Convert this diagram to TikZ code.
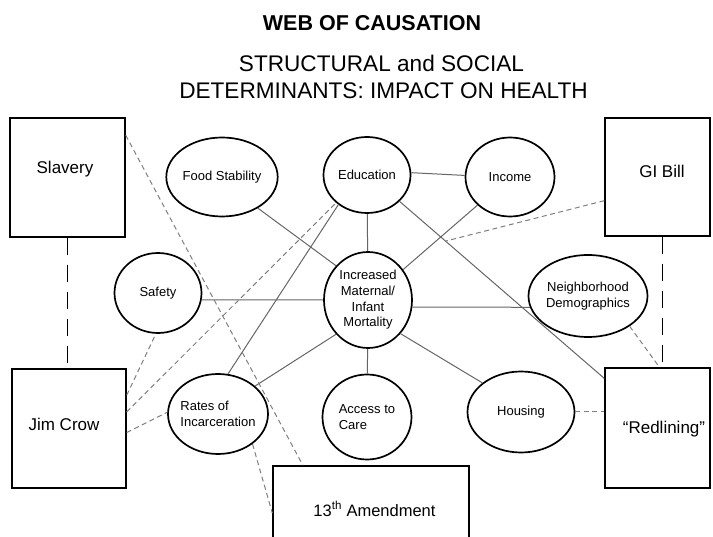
\documentclass[tikz,border=0pt]{standalone}
\usepackage{fontspec}
\setmainfont{Liberation Sans}
\usetikzlibrary{shapes.geometric}
\begin{document}
\begin{tikzpicture}[x=1pt,y=-1pt,
  box/.style={draw=black, line width=1.4pt, rectangle, inner sep=0pt},
  boxtext/.style={font=\fontsize{17}{20}\selectfont, inner sep=0pt},
  oval/.style={draw=black, line width=1.7pt, ellipse, inner sep=0pt,
    font=\fontsize{13}{15.6}\selectfont, align=center},
  link/.style={draw=black!60, line width=1pt},
  dlink/.style={draw=black!50, line width=1pt, dash pattern=on 5pt off 3.5pt},
  bigdash/.style={draw=black, line width=1.8pt, dash pattern=on 17pt off 10pt},
]
\clip (0,0) rectangle (713,537);
\fill[white] (0,0) rectangle (713,537);

% titles
\node[anchor=base, inner sep=0pt, font=\fontsize{21.5}{24}\selectfont\bfseries] (title) at (372,31) {WEB OF CAUSATION};
\node[anchor=base, inner sep=0pt, font=\fontsize{22.6}{26}\selectfont] (sub1) at (381.5,72) {STRUCTURAL and SOCIAL};
\node[anchor=base, inner sep=0pt, font=\fontsize{22.6}{26}\selectfont] (sub2) at (383.5,99) {DETERMINANTS: IMPACT ON HEALTH};

% boxes
\node[box, minimum width=115pt, minimum height=119pt] (slavery) at (67.5,177.5) {};
\node[boxtext] (slaveryt) at (65,169) {Slavery};
\node[box, minimum width=114pt, minimum height=119pt] (jimcrow) at (69,428.5) {};
\node[boxtext] (jimcrowt) at (64,424) {Jim Crow};
\node[box, minimum width=105pt, minimum height=118pt] (gibill) at (657.5,177) {};
\node[boxtext] (gibillt) at (662,171) {GI Bill};
\node[box, minimum width=105pt, minimum height=120pt] (redlining) at (657.5,428) {};
\node[boxtext] (redliningt) at (664,429) {``Redlining''};
\node[box, minimum width=196pt, minimum height=94pt] (amend) at (371,513) {};
\node[boxtext, font=\fontsize{16.5}{20}\selectfont] (amendt) at (374.5,509) {13\textsuperscript{th} Amendment};

% ellipses
\node[oval, minimum width=88pt, minimum height=79pt] (food) at (222,177) {Food Stability};
\node[oval, minimum width=87pt, minimum height=76pt] (edu) at (367,175) {Education};
\node[oval, minimum width=89pt, minimum height=79pt] (income) at (510,177) {Income};
\node[oval, minimum width=87pt, minimum height=80pt] (safety) at (158,293) {Safety};
\node[oval, minimum width=88pt, minimum height=96pt] (central) at (368,300) {Increased\\Maternal/\\Infant\\Mortality};
\node[oval, minimum width=119pt, minimum height=82pt, inner xsep=-2pt, font=\fontsize{13}{16}\selectfont] (neigh) at (588,296) {Neighborhood\\Demographics};
\node[oval, minimum width=100pt, minimum height=80pt, inner xsep=-4pt, align=left] (rates) at (218,414) {Rates of\\Incarceration};
\node[oval, minimum width=89pt, minimum height=85pt, align=left] (access) at (367,417) {Access to\\Care};
\node[oval, minimum width=107pt, minimum height=81pt] (housing) at (521,412) {Housing};

% solid links
\draw[link] (food.-41) -- (central.133);
\draw[link] (edu) -- (central);
\draw[link] (edu.3) -- (income.178);
\draw[link] (income) -- (central);
\draw[link] (edu.-39) -- (redlining.137.6);
\draw[link] (safety.-9) -- (central.180);
\draw[link] (central.-9) -- (neigh.-169);
\draw[link] (central) -- (access);
\draw[link] (central.-46) -- (housing.143);
\draw[link] (central.-133) -- (rates.37);
\draw[link] (rates.76) -- (edu.-134);

% dashed links
\coordinate (gimeet) at (446,241);
\draw[dlink] (slavery.36.5) -- (amend.145.35);
\draw[dlink] (jimcrow.30.4) -- (safety.-93);
\draw[dlink] (jimcrow.16.1) -- (edu.-138);
\draw[dlink] (jimcrow.-4.5) -- (rates.178);
\draw[dlink] (rates.-41.5) -- (amend.west);
\draw[dlink] (gibill.-156.3) -- (gimeet);
\draw[dlink] (neigh.-36.7) -- ([xshift=2pt]redlining.north);
\draw[dlink] (housing.east) -- (housing.east -| redlining.west);

% heavy dashed links
\draw[bigdash] (slavery.south) -- (slavery.south |- jimcrow.north);
\draw[bigdash] ([xshift=5pt]gibill.south) -- ([xshift=5pt]redlining.north);
\end{tikzpicture}
\end{document}
